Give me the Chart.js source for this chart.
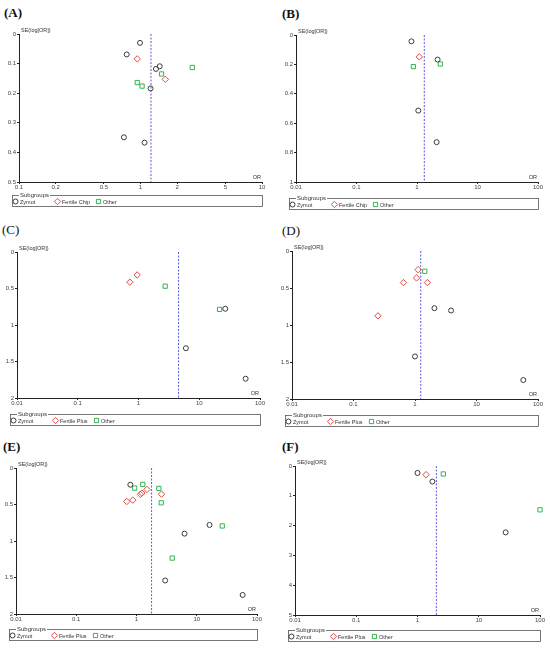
<!DOCTYPE html>
<html>
<head>
<meta charset="utf-8">
<script src="https://cdn.jsdelivr.net/npm/chart.js@4.4.0/dist/chart.umd.min.js"></script>
<style>
  body { margin: 0; background: #fff; width: 550px; height: 649px; position: relative; overflow: hidden; }
  canvas { position: absolute; }
  .tag { position: absolute; font-family: "Liberation Serif", serif; font-size: 13px; line-height: 1; color: #111; }
</style>
</head>
<body>
<script>
// each point is [OR, SE(log[OR])]
const aZymot = [[0.99, 0.030], [0.77, 0.069], [1.44, 0.109], [1.34, 0.118], [1.21, 0.184], [0.73, 0.349], [1.08, 0.367]];
const aFertile = [[0.94, 0.084], [1.60, 0.153]];
const aOther = [[2.67, 0.113], [1.49, 0.135], [0.94, 0.164], [1.03, 0.176]];

const bZymot = [[0.81, 0.043], [2.19, 0.167], [1.05, 0.514], [2.11, 0.729]];
const bFertile = [[1.09, 0.149]];
const bOther = [[0.87, 0.215], [2.43, 0.197]];

const cZymot = [[26.8, 0.777], [6.03, 1.318], [58, 1.736]];
const cFertile = [[0.95, 0.314], [0.72, 0.414]];
const cOther = [[2.75, 0.468], [21.6, 0.786]];

const dZymot = [[2.07, 0.773], [3.86, 0.804], [1.0, 1.425], [57.7, 1.744]];
const dFertile = [[1.12, 0.252], [1.06, 0.364], [0.65, 0.427], [1.59, 0.427], [0.25, 0.876]];
const dOther = [[1.44, 0.274]];

const eZymot = [[0.79, 0.229], [6.28, 0.899], [16.3, 0.780], [2.99, 1.541], [57.8, 1.739]];
const eFertile = [[0.69, 0.459], [0.87, 0.440], [1.16, 0.362], [1.23, 0.344], [1.49, 0.294], [2.60, 0.358]];
const eOther = [[0.93, 0.275], [1.27, 0.225], [2.35, 0.280], [2.57, 0.477], [26.5, 0.794], [3.92, 1.234]];

const fZymot = [[1.0, 0.234], [1.75, 0.523], [27.5, 2.227]];
const fFertile = [[1.38, 0.29]];
const fOther = [[2.64, 0.267], [100, 1.47]];

const pooledOR = [1.22, 1.32, 4.56, 1.24, 1.78, 2.03];

const xTicksNarrow = [0.1, 0.2, 0.5, 1, 2, 5, 10];
const xTicksWide = [0.01, 0.1, 1, 10, 100];
const yTicksA = [0, 0.1, 0.2, 0.3, 0.4, 0.5];
const yTicksB = [0, 0.2, 0.4, 0.6, 0.8, 1];
const yTicksMid = [0, 0.5, 1, 1.5, 2];
const yTicksF = [0, 1, 2, 3, 4, 5];

const chipNames = ['Zymot', 'Fertile Chip', 'Other'];
const plusNames = ['Zymot', 'Fertile Plus', 'Other'];
const panelTags = ['(A)', '(B)', '(C)', '(D)', '(E)', '(F)'];

const FONT = '"Liberation Sans", Arial, sans-serif';
const styles = [
  { pointStyle: 'circle', radius: 2.5, color: '#3a3a3a' },
  { pointStyle: 'rectRot', radius: 3.2, color: '#e04a44' },
  { pointStyle: 'rect', radius: 3.0, color: '#33b450' }
];

function drawMarker(ctx, style, x, y) {
  const r = style.radius;
  ctx.beginPath();
  if (style.pointStyle === 'circle') {
    ctx.arc(x, y, r, 0, Math.PI * 2);
  } else if (style.pointStyle === 'rectRot') {
    ctx.moveTo(x, y - r); ctx.lineTo(x + r, y); ctx.lineTo(x, y + r); ctx.lineTo(x - r, y); ctx.closePath();
  } else {
    const s = r * Math.SQRT1_2;
    ctx.rect(x - s, y - s, 2 * s, 2 * s);
  }
  ctx.strokeStyle = style.color;
  ctx.lineWidth = 1;
  ctx.stroke();
}

// axis captions and the "Subgroups" box under each plot
const funnelExtras = {
  id: 'funnelExtras',
  afterDraw(chart, args, opts) {
    const { ctx, chartArea: a } = chart;
    ctx.save();
    ctx.font = '5.5px ' + FONT;
    ctx.fillStyle = '#333';
    ctx.textBaseline = 'middle';
    ctx.textAlign = 'left';
    ctx.fillText('SE(log[OR])', a.left + 2, a.top - 3.5);
    ctx.textAlign = 'right';
    ctx.fillText('OR', a.right - 1, a.bottom - 5);

    const x0 = a.left - 7, y0 = a.bottom + opts.gap, w = a.right - x0, h = 11;
    ctx.strokeStyle = '#555';
    ctx.lineWidth = 0.8;
    ctx.strokeRect(x0 + 0.5, y0 + 0.5, w, h);
    ctx.font = '6px ' + FONT;
    ctx.textAlign = 'left';
    const tw = ctx.measureText('Subgroups').width;
    ctx.fillStyle = '#fff';
    ctx.fillRect(x0 + 7, y0 - 2, tw + 2, 5);
    ctx.fillStyle = '#333';
    ctx.fillText('Subgroups', x0 + 8, y0 + 0.5);

    const offs = [3.5, 45.5, 86.5];
    ctx.font = '5.5px ' + FONT;
    opts.names.forEach((name, i) => {
      const cx = x0 + offs[i], cy = y0 + 6.5;
      drawMarker(ctx, styles[i], cx, cy);
      ctx.fillStyle = '#333';
      ctx.fillText(name, cx + 4.5, cy + 0.5);
    });
    ctx.restore();
  }
};

const panels = [
  { area: [19, 34, 262, 182], gap: 13, tag: [4, 6], bold: true, series: [aZymot, aFertile, aOther], names: chipNames, xTicks: xTicksNarrow, yTicks: yTicksA },
  { area: [296, 35, 538, 182], gap: 16, tag: [282, 7], bold: true, series: [bZymot, bFertile, bOther], names: chipNames, xTicks: xTicksWide, yTicks: yTicksB },
  { area: [17, 252, 260, 398], gap: 16, tag: [2, 223], bold: false, series: [cZymot, cFertile, cOther], names: plusNames, xTicks: xTicksWide, yTicks: yTicksMid },
  { area: [292, 251, 538, 399], gap: 16, tag: [282, 224], bold: false, series: [dZymot, dFertile, dOther], names: plusNames, xTicks: xTicksWide, yTicks: yTicksMid },
  { area: [16, 468, 257, 614], gap: 15, tag: [3, 440], bold: true, series: [eZymot, eFertile, eOther], names: plusNames, xTicks: xTicksWide, yTicks: yTicksMid },
  { area: [295, 466, 540, 615], gap: 15, tag: [282, 440], bold: true, series: [fZymot, fFertile, fOther], names: plusNames, xTicks: xTicksWide, yTicks: yTicksF }
];

panels.forEach((p, k) => {
  const [l, t, r, b] = p.area;
  const left = Math.max(0, l - 20), top = t - 10;
  const right = Math.min(550, r + 8), bottom = b + p.gap + 15;
  const cv = document.createElement('canvas');
  cv.width = right - left;
  cv.height = bottom - top;
  cv.style.left = left + 'px';
  cv.style.top = top + 'px';
  document.body.appendChild(cv);

  const tag = document.createElement('div');
  tag.className = 'tag';
  tag.textContent = panelTags[k];
  tag.style.left = p.tag[0] + 'px';
  tag.style.top = p.tag[1] + 'px';
  tag.style.fontWeight = p.bold ? 'bold' : 'normal';
  document.body.appendChild(tag);

  const yMax = p.yTicks[p.yTicks.length - 1];
  const datasets = p.series.map((s, i) => ({
    label: p.names[i],
    data: s.map(([or, se]) => ({ x: or, y: se })),
    pointStyle: styles[i].pointStyle,
    pointRadius: styles[i].radius,
    pointBorderColor: styles[i].color,
    pointBackgroundColor: 'rgba(0,0,0,0)',
    pointBorderWidth: 1,
    clip: false,
    order: 0
  }));
  datasets.push({
    type: 'line',
    label: 'pooled',
    data: [{ x: pooledOR[k], y: 0 }, { x: pooledOR[k], y: yMax }],
    borderColor: '#5a5ae0',
    borderWidth: 1,
    borderDash: [2, 1.5],
    pointRadius: 0,
    order: 1
  });

  const tickFont = { family: FONT, size: 6 };
  new Chart(cv, {
    type: 'scatter',
    data: { datasets },
    plugins: [funnelExtras],
    options: {
      responsive: false,
      animation: false,
      layout: { padding: { top: t - top, right: right - r, left: 0, bottom: 0 } },
      plugins: {
        legend: { display: false },
        tooltip: { enabled: false },
        funnelExtras: { names: p.names, gap: p.gap }
      },
      scales: {
        x: {
          type: 'logarithmic',
          min: p.xTicks[0],
          max: p.xTicks[p.xTicks.length - 1],
          afterBuildTicks: s => { s.ticks = p.xTicks.map(v => ({ value: v })); },
          afterFit: s => { s.height = bottom - b; },
          border: { color: '#222', width: 1 },
          grid: { drawOnChartArea: false, tickLength: 2, color: '#222' },
          ticks: { font: tickFont, color: '#444', padding: 0, autoSkip: false, maxRotation: 0, minRotation: 0, callback: v => String(v) }
        },
        y: {
          type: 'linear',
          reverse: true,
          min: 0,
          max: yMax,
          afterBuildTicks: s => { s.ticks = p.yTicks.map(v => ({ value: v })); },
          afterFit: s => { s.width = l - left; },
          border: { color: '#222', width: 1 },
          grid: { drawOnChartArea: false, tickLength: 2, color: '#222' },
          ticks: { font: tickFont, color: '#444', padding: 1, callback: v => String(+Number(v).toFixed(2)) }
        }
      }
    }
  });
});
</script>
</body>
</html>
